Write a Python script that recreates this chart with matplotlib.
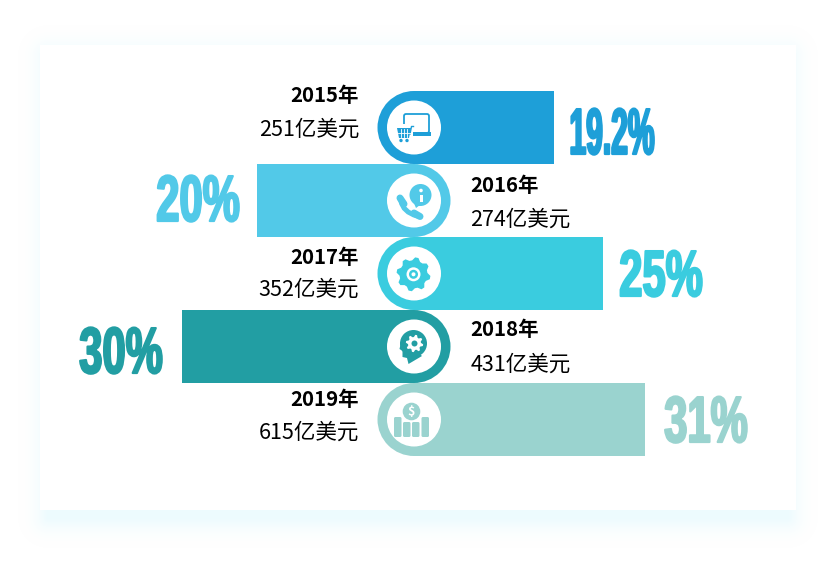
import numpy as np
import matplotlib
matplotlib.use('Agg')
from matplotlib import pyplot as plt
from matplotlib.patches import Circle, FancyBboxPatch, PathPatch, Rectangle
from matplotlib.path import Path
from matplotlib.patheffects import AbstractPathEffect
from matplotlib.transforms import Affine2D

years = ['2015年', '2016年', '2017年', '2018年', '2019年']
amounts = ['251亿美元', '274亿美元', '352亿美元', '431亿美元', '615亿美元']
shares = ['19.2%', '20%', '25%', '30%', '31%']
bar_lengths = [140, 157, 189, 232, 231]
colors = ['#1e9fd8', '#52c9e8', '#3accdf', '#229ea3', '#9ad3cf']

plt.rcParams['font.family'] = ['Noto Sans CJK SC', 'DejaVu Sans']

W, H = 836, 565
CX = 414
ROW_H = 73
TOP = 91
PX = 0.72  # pixels to points at dpi 100


class Squeeze(AbstractPathEffect):
    # narrows glyphs around their centre and thickens them, like Impact
    def __init__(self, sx, x0, lw):
        super().__init__()
        self.sx, self.x0, self.lw = sx, x0, lw

    def draw_path(self, renderer, gc, tpath, affine, rgbFace=None):
        t = affine + Affine2D().translate(-self.x0, 0).scale(self.sx, 1).translate(self.x0, 0)
        gc2 = renderer.new_gc()
        gc2.copy_properties(gc)
        gc2.set_foreground(rgbFace)
        gc2.set_linewidth(self.lw)
        renderer.draw_path(gc2, tpath, t, rgbFace)
        gc2.restore()


fig = plt.figure(figsize=(W / 100, H / 100), dpi=100)
ax = fig.add_axes([0, 0, 1, 1])

# soft panel shadow, as a smooth image so it does not band
xx, yy = np.meshgrid(np.arange(W) + 0.5, np.arange(H) + 0.5)
dx = np.maximum(np.maximum(48 - xx, xx - 788), 0)
dy = np.maximum(np.maximum(55 - yy, yy - 518), 0)
s = np.clip(1 - np.hypot(dx, dy) / 30, 0, 1) ** 2
shadow = np.ones((H, W, 3))
shadow -= s[..., None] * np.array([18, 4, 1]) / 255
ax.imshow(shadow, extent=(0, W, H, 0), aspect='auto', zorder=1, interpolation='nearest')

ax.set_xlim(0, W)
ax.set_ylim(H, 0)
ax.axis('off')
ax.add_patch(Rectangle((40, 45), 756, 465, fc='white', ec='none', zorder=2))

# bars, odd rows run to the right and even rows to the left
for i, (length, c) in enumerate(zip(bar_lengths, colors)):
    y = TOP + ROW_H * (i + 0.5)
    side = 1 if i % 2 == 0 else -1
    ax.barh(y, side * length, left=CX, height=ROW_H, color=c, zorder=3)
    ax.add_patch(Circle((CX, y), ROW_H / 2, fc=c, ec='none', zorder=4))
    ax.add_patch(Circle((CX, y), 27, fc='white', ec='none', zorder=5))

# year and amount labels
year_y = [95, 185, 257, 330, 399]
amount_y = [129.5, 220, 290, 365, 433]
for i in range(5):
    left = i % 2 == 0
    x = 358.5 if left else 470.5
    ha = 'right' if left else 'left'
    ax.text(x, year_y[i], years[i], ha=ha, va='center', fontsize=14.7, fontweight='bold', color='black', zorder=6)
    ax.text(x + (0.5 if left else 0), amount_y[i], amounts[i], ha=ha, va='center', fontsize=15.5, color='black', zorder=6)

# big percentages
share_x = [612, 198, 661, 121, 706]
share_y = [137, 204, 279, 356, 425]
share_sx = [0.46, 0.64, 0.64, 0.64, 0.64]
for i in range(5):
    x0 = ax.transData.transform((share_x[i], 0))[0]
    ax.text(share_x[i], share_y[i], shares[i], ha='center', va='center', fontsize=47,
            family=['Liberation Sans Narrow', 'Liberation Sans'], fontweight='bold', color=colors[i], zorder=6,
            path_effects=[Squeeze(share_sx[i], x0, 1.6)])


def poly(points, c, z=6):
    ax.add_patch(plt.Polygon(points, closed=True, fc=c, ec='none', zorder=z))


def gear(x, y, r_out, r_in, teeth, c, z=6):
    ang = np.linspace(0, 2 * np.pi, teeth * 4, endpoint=False) + np.pi / (teeth * 4)
    rad = np.tile([r_out, r_out, r_in, r_in], teeth)
    poly(np.column_stack([x + rad * np.cos(ang), y + rad * np.sin(ang)]), c, z)


# cart and laptop
c = colors[0]
ax.add_patch(FancyBboxPatch((404, 114), 25, 19, boxstyle='round,pad=0,rounding_size=2', fc='white', ec=c, lw=1.8 * PX, zorder=6))
ax.add_patch(Rectangle((411, 132), 20, 3.5, fc=c, ec='none', zorder=6))
ax.add_patch(Rectangle((396, 124), 17, 19, fc='white', ec='none', zorder=6))
poly([(397, 128), (411, 128), (409, 138), (399, 138)], c)
for k in (400.5, 403.5, 406.5):
    ax.plot([k, k], [129, 137], color='white', lw=0.6, zorder=7)
ax.plot([398, 411], [133, 133], color='white', lw=0.6, zorder=7)
ax.plot([410, 411.5, 413.5], [134, 126.5, 126.5], color=c, lw=1, zorder=6)
for k in (401, 407):
    ax.add_patch(Circle((k, 140.5), 1.7, fc=c, ec='none', zorder=6))

# phone and info bubble
c = colors[1]
ax.add_patch(Circle((420.5, 195), 11, fc=c, ec='none', zorder=6))
poly([(413, 201), (416, 208), (420, 205)], c)
ax.add_patch(Rectangle((419.5, 195), 3, 7, fc='white', ec='none', zorder=7))
ax.add_patch(Circle((421, 190.5), 1.8, fc='white', ec='none', zorder=7))
phone = Path([(401, 201), (403, 212), (417, 216)], [Path.MOVETO, Path.CURVE3, Path.CURVE3])
ax.add_patch(PathPatch(phone, fc='none', ec=c, lw=5 * PX, capstyle='round', zorder=6))
ax.plot([400, 404], [198, 204], color=c, lw=7 * PX, solid_capstyle='round', zorder=6)
ax.plot([414, 420], [213, 216.5], color=c, lw=7 * PX, solid_capstyle='round', zorder=6)

# gear
c = colors[2]
gear(413.5, 274.3, 17, 14, 8, c)
ax.add_patch(Circle((413.5, 274.3), 7, fc='white', ec='none', zorder=7))
ax.add_patch(Circle((413.5, 274.3), 4.5, fc=c, ec='none', zorder=7))
ax.add_patch(Circle((413.5, 274.3), 2, fc='white', ec='none', zorder=7))

# head with gear
c = colors[3]
ax.add_patch(Circle((413.5, 343.5), 13.5, fc=c, ec='none', zorder=6))
poly([(402, 338), (399.5, 349), (402.5, 351), (402.5, 357), (407, 358), (408.5, 364), (422, 356)], c)
gear(414.5, 343.5, 8.7, 6.5, 8, 'white', 7)
ax.add_patch(Circle((414.5, 343.5), 3, fc=c, ec='none', zorder=8))

# coin and columns
c = colors[4]
ax.add_patch(Circle((411.5, 411.5), 8.8, fc=c, ec='none', zorder=6))
ax.text(411.5, 411.5, '$', ha='center', va='center', fontsize=9, fontweight='bold', color='white', zorder=7)
for x, top in zip((394, 403, 412, 421.5), (417, 422, 422, 417)):
    ax.add_patch(FancyBboxPatch((x, top), 7.5, 437 - top, boxstyle='round,pad=0,rounding_size=1.5', fc=c, ec='none', zorder=6))

fig.savefig('out.png', dpi=100)
